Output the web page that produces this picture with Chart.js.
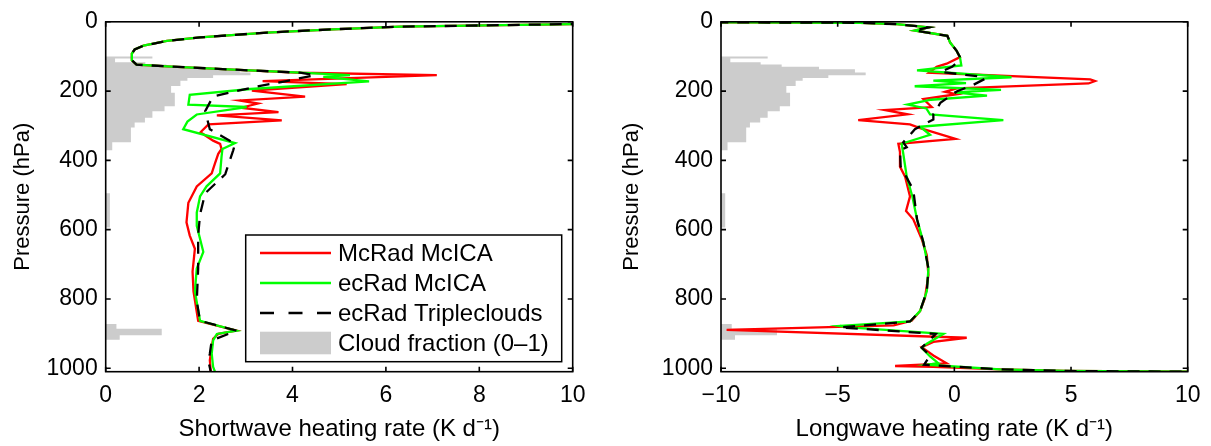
<!DOCTYPE html>
<html><head><meta charset="utf-8">
<script src="https://cdn.jsdelivr.net/npm/chart.js@4.4.1/dist/chart.umd.min.js"></script>
<style>
html,body{margin:0;padding:0;background:#fff;}
#wrap{position:relative;width:1211px;height:446px;overflow:hidden;}
canvas{position:absolute;top:0;}
</style></head><body>
<div id="wrap">
<canvas id="sw" width="605" height="446" style="left:0"></canvas>
<canvas id="lw" width="606" height="446" style="left:605px"></canvas>
</div>
<script>
// ---------- tick labels ----------
const pressureTicks = [0, 200, 400, 600, 800, 1000];
const swTicks = [0, 2, 4, 6, 8, 10];
const lwTicks = [-10, -5, 0, 5, 10];

// ---------- shortwave heating rate (K/day) vs pressure (hPa) ----------
const swTopP = [1, 3, 6.5, 14, 21.6, 31, 45, 55, 69, 80, 92, 111, 123.7, 128.5, 138, 147];
const swTopX = [30, 16, 10, 6.3, 4.87, 3.45, 2.02, 1.31, 0.81, 0.62, 0.56, 0.56, 0.66, 1.31, 2.73, 4.16];

const swRedP = [154, 171, 180, 198.5, 216, 227, 236, 248, 260.5, 270, 284.5, 296, 319, 343, 352.5, 367, 381, 409, 437.6, 475, 522.6, 579, 617, 655, 721, 778, 863, 891.5, 901, 915, 939, 977, 1010];
const swRedX = [7.09, 3.36, 5.16, 3.13, 4.27, 2.87, 3.26, 2.9, 3.7, 2.38, 3.77, 2.2, 2.03, 2.3, 2.45, 2.48, 2.41, 2.34, 2.27, 1.95, 1.77, 1.73, 1.80, 1.91, 1.86, 1.88, 1.98, 2.80, 2.41, 2.30, 2.27, 2.23, 2.25];

const swGreenP = [154, 159, 172, 194, 211, 239, 246, 267.5, 288, 310, 350, 367, 390, 437.6, 475, 504, 551, 589, 664, 712, 778, 863, 891.5, 901, 920, 958, 996, 1010];
const swGreenX = [5.23, 4.66, 5.64, 3.1, 1.8, 1.77, 3.02, 1.95, 1.75, 1.66, 2.77, 2.5, 2.48, 2.45, 2.16, 2.02, 1.95, 1.95, 2.09, 1.95, 1.91, 2.02, 2.80, 2.38, 2.30, 2.27, 2.30, 2.34];

const swBlackP = [154, 171, 187, 215.5, 258, 310, 327, 352, 371, 440, 495, 556, 617, 712, 807, 863, 891.5, 920, 958, 980, 1010];
const swBlackX = [4.48, 3.87, 3.23, 2.3, 2.13, 2.23, 2.45, 2.77, 2.73, 2.56, 2.13, 2.02, 1.98, 1.98, 1.95, 2.02, 2.80, 2.27, 2.23, 2.2, 2.25];

// ---------- longwave heating rate (K/day) vs pressure (hPa) ----------
const lwTopP = [0.5, 1.5, 2.8, 7, 16, 25, 40.6, 60, 83, 102];
const lwTopX = [-30, -10, -4.04, -2.47, -1.1, -1.7, -0.3, -0.18, 0.09, 0.24];

const lwRedP = [121, 130, 147, 166, 171, 178, 192, 202, 209, 223, 246, 255, 267, 284, 296, 306, 338, 352, 376, 418, 447, 504, 546, 570, 627, 674, 731, 797, 835, 863, 876, 889, 912, 924, 939, 963, 986, 993.5, 996, 1003, 1008, 1010];
const lwRedX = [-0.33, -0.76, -1.09, 5.82, 6.03, 5.75, 0.1, -0.4, 0.1, -1.33, -0.97, -2.97, -2.0, -4.12, -1.9, -1.5, 0.05, -2.4, -2.33, -2.33, -2.11, -1.9, -2.07, -1.76, -1.4, -1.18, -1.11, -1.26, -1.47, -1.83, -2.6, -9.76, 0.53, -0.9, -1.4, -0.9, -0.33, -2.54, -0.9, 1.96, 4.8, 10];

const lwGreenP = [126, 140, 160, 170, 177, 186, 196.5, 204, 213, 225, 239, 250, 267, 284, 303, 326, 352, 376, 447, 504, 570, 636, 712, 778, 835, 865, 878, 882, 901, 929, 941, 966, 985.5, 990, 1003, 1008, 1010];
const lwGreenX = [0.3, -1.6, 2.45, -0.9, 0.5, -1.7, 2.0, 0.0, 1.4, -1.0, -2.0, -1.2, -1.04, 2.1, -1.47, -1.04, -2.26, -2.2, -2.04, -1.8, -1.6, -1.33, -1.11, -1.18, -1.47, -1.9, -4.9, -4.5, -0.47, -1.18, -1.4, -1.04, -0.69, -1.16, 1.96, 4.8, 10];

const lwBlackP = [110, 130, 144.6, 159, 165, 182, 201, 234, 267, 282, 310, 348, 362, 371, 418, 485, 570, 636, 712, 778, 835, 865, 882, 901, 941, 963, 990, 1003, 1008, 1010];
const lwBlackX = [0.24, -0.1, -0.6, 1.24, 1.3, 0.81, 0.1, -0.6, -0.9, -0.9, -1.69, -2.19, -2.04, -2.33, -2.3, -1.76, -1.6, -1.33, -1.11, -1.18, -1.47, -1.9, -4.9, -0.8, -1.4, -1.04, -1.3, 1.96, 4.8, 10];

// ---------- cloud fraction (0-1) by layer ----------
const cloudTopP = [100, 106, 117, 123, 130, 137, 146, 154, 162, 170, 185, 205, 244, 258, 277, 291, 305, 348, 495, 872, 886, 905];
const cloudBotP = [106, 117, 123, 130, 137, 146, 154, 162, 170, 185, 205, 244, 258, 277, 291, 305, 348, 371, 594, 886, 905, 918];
const cloudFrac = [0.10, 0.02, 0.085, 0.13, 0.21, 0.287, 0.31, 0.23, 0.175, 0.16, 0.14, 0.148, 0.126, 0.10, 0.084, 0.062, 0.054, 0.014, 0.009, 0.023, 0.12, 0.03];

// ---------- helpers ----------
const FONT = "'Liberation Sans', Arial, Helvetica, sans-serif";
const fmt = v => (v < 0 ? '\u2212' + Math.abs(v) : String(v));
const pts = (P, X) => P.map((p, i) => ({ x: X[i], y: p }));

function cloudPolygon(xmin, xmax) {
  const R = xmax - xmin, out = [{ x: xmin, y: cloudTopP[0] }];
  for (let i = 0; i < cloudFrac.length; i++) {
    const xv = xmin + cloudFrac[i] * R;
    out.push({ x: xv, y: cloudTopP[i] }, { x: xv, y: cloudBotP[i] });
    if (i + 1 < cloudFrac.length && cloudTopP[i + 1] !== cloudBotP[i]) {
      out.push({ x: xmin, y: cloudBotP[i] }, { x: xmin, y: cloudTopP[i + 1] });
    }
  }
  out.push({ x: xmin, y: cloudBotP[cloudBotP.length - 1] });
  return out;
}

function line(label, data, color, dash, order) {
  return { label, data, showLine: true, borderColor: color, backgroundColor: color,
    borderWidth: 2.3, borderDash: dash, pointRadius: 0, pointHoverRadius: 0, tension: 0, fill: false, order };
}

const framePlugin = {
  id: 'frame',
  afterDatasetsDraw(chart) {
    const { ctx, chartArea: a, scales: { x, y } } = chart;
    ctx.save();
    ctx.setLineDash([]);
    ctx.strokeStyle = '#000';
    ctx.lineWidth = 1.6;
    ctx.strokeRect(a.left, a.top, a.right - a.left, a.bottom - a.top);
    const L = 5;
    ctx.beginPath();
    x.ticks.forEach(t => { const px = x.getPixelForValue(t.value);
      ctx.moveTo(px, a.bottom); ctx.lineTo(px, a.bottom - L);
      ctx.moveTo(px, a.top); ctx.lineTo(px, a.top + L); });
    y.ticks.forEach(t => { const py = y.getPixelForValue(t.value);
      ctx.moveTo(a.left, py); ctx.lineTo(a.left + L, py);
      ctx.moveTo(a.right, py); ctx.lineTo(a.right - L, py); });
    ctx.stroke();
    ctx.restore();
  }
};

const boxLegend = {
  id: 'boxLegend',
  afterDraw(chart, args, opts) {
    if (!opts || !opts.show) return;
    const { ctx, chartArea: a } = chart;
    const w = 316, h = 126.7;
    const left = a.right - 11 - w, top = a.bottom - 10 - h;
    ctx.save();
    ctx.fillStyle = '#fff';
    ctx.fillRect(left, top, w, h);
    ctx.strokeStyle = '#000'; ctx.lineWidth = 1.5; ctx.setLineDash([]);
    ctx.strokeRect(left, top, w, h);
    const rows = [18, 48, 78, 108];
    ctx.font = opts.fontSize + "px " + FONT;
    ctx.textBaseline = 'middle'; ctx.textAlign = 'left';
    chart.data.datasets.forEach((ds, i) => {
      const yy = top + rows[i];
      if (ds.fill === 'shape') {
        ctx.fillStyle = ds.backgroundColor;
        ctx.fillRect(left + 14.3, yy - 11.3, 71, 22.6);
      } else {
        ctx.strokeStyle = ds.borderColor; ctx.lineWidth = 2.3;
        ctx.setLineDash(ds.borderDash && ds.borderDash.length ? [14, 14.5] : []);
        ctx.beginPath(); ctx.moveTo(left + 14.3, yy); ctx.lineTo(left + 85.3, yy); ctx.stroke();
        ctx.setLineDash([]);
      }
      ctx.fillStyle = '#000';
      ctx.fillText(ds.label, left + 92.3, yy + 1);
    });
    ctx.restore();
  }
};

function makeChart(id, cfg) {
  const font = { family: FONT, size: 23 };
  const xTitleFont = { family: FONT, size: 24 };
  const yTitleFont = { family: FONT, size: 22 };
  return new Chart(document.getElementById(id), {
    type: 'scatter',
    data: { datasets: cfg.datasets },
    options: {
      responsive: false, animation: false, devicePixelRatio: 1,
      layout: { padding: { left: 0, top: 15.7, right: cfg.padRight, bottom: 0 } },
      plugins: { legend: { display: false }, tooltip: { enabled: false }, boxLegend: { show: cfg.legend, fontSize: 24 } },
      scales: {
        x: { type: 'linear', min: cfg.xmin, max: cfg.xmax,
          grid: { display: false, drawTicks: false }, border: { display: false },
          afterBuildTicks: s => { s.ticks = cfg.xTicks.map(v => ({ value: v })); },
          afterFit: s => { s.height = 74.3; },
          ticks: { font, color: '#000', padding: 10, maxRotation: 0, autoSkip: false, callback: fmt },
          title: { display: true, text: cfg.xTitle, font: xTitleFont, color: '#000', padding: { top: 0, bottom: 2 } } },
        y: { type: 'linear', min: 0, max: 1010, reverse: true,
          grid: { display: false, drawTicks: false }, border: { display: false },
          afterBuildTicks: s => { s.ticks = pressureTicks.map(v => ({ value: v })); },
          afterFit: s => { s.width = cfg.yWidth; },
          ticks: { font, color: '#000', padding: 8, autoSkip: false, callback: fmt },
          title: { display: true, text: 'Pressure (hPa)', font: yTitleFont, color: '#000', padding: { top: cfg.yTitlePad, bottom: 0 } } }
      }
    },
    plugins: [framePlugin, boxLegend]
  });
}

makeChart('sw', {
  xmin: 0, xmax: 10, xTicks: swTicks, padRight: 32.3, yWidth: 105.7, yTitlePad: 10, legend: true,
  xTitle: 'Shortwave heating rate (K d\u207B\u00B9)',
  datasets: [
    line('McRad McICA', pts(swTopP.concat(swRedP), swTopX.concat(swRedX)), '#ff0000', [], 2),
    line('ecRad McICA', pts(swTopP.concat(swGreenP), swTopX.concat(swGreenX)), '#00ff00', [], 1),
    line('ecRad Tripleclouds', pts(swTopP.concat(swBlackP), swTopX.concat(swBlackX)), '#000000', [12, 9], 0),
    { label: 'Cloud fraction (0\u20131)', data: cloudPolygon(0, 10), showLine: true, borderWidth: 1,
      borderColor: 'rgba(0,0,0,0)', backgroundColor: '#cccccc', fill: 'shape', pointRadius: 0, tension: 0, order: 5 }
  ]
});

makeChart('lw', {
  xmin: -10, xmax: 10, xTicks: lwTicks, padRight: 23.3, yWidth: 116, yTitlePad: 14, legend: false,
  xTitle: 'Longwave heating rate (K d\u207B\u00B9)',
  datasets: [
    line('McRad McICA', pts(lwTopP.concat(lwRedP), lwTopX.concat(lwRedX)), '#ff0000', [], 2),
    line('ecRad McICA', pts(lwTopP.concat(lwGreenP), lwTopX.concat(lwGreenX)), '#00ff00', [], 1),
    line('ecRad Tripleclouds', pts(lwTopP.concat(lwBlackP), lwTopX.concat(lwBlackX)), '#000000', [12, 9], 0),
    { label: 'Cloud fraction (0\u20131)', data: cloudPolygon(-10, 10), showLine: true, borderWidth: 1,
      borderColor: 'rgba(0,0,0,0)', backgroundColor: '#cccccc', fill: 'shape', pointRadius: 0, tension: 0, order: 5 }
  ]
});
</script>
</body></html>
